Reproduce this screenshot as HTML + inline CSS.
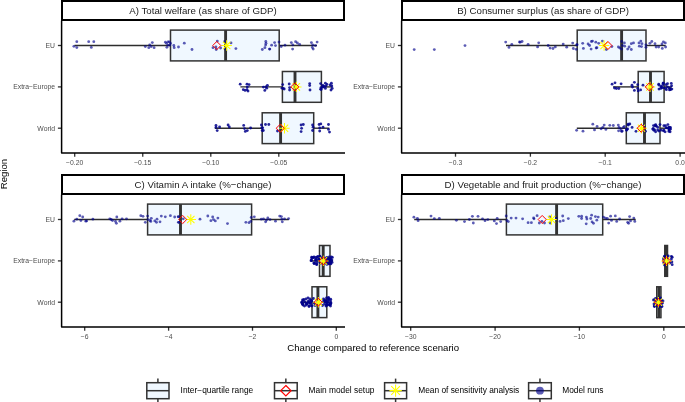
<!DOCTYPE html><html><head><meta charset="utf-8"><style>html,body{margin:0;padding:0;background:#fff;}svg{display:block;will-change:transform;}text{font-family:"Liberation Sans", sans-serif;}</style></head><body>
<svg width="685" height="402" viewBox="0 0 685 402">
<rect width="685" height="402" fill="#fff"/>
<rect x="62" y="1" width="282" height="19" fill="#fff" stroke="#000" stroke-width="2"/>
<text x="203.0" y="13.7" font-size="9.7" fill="#1a1a1a" text-anchor="middle">A) Total welfare (as share of GDP)</text>
<line x1="57.90" y1="45.50" x2="61.60" y2="45.50" stroke="#333" stroke-width="1.3"/>
<text x="55.00" y="47.95" font-size="6.8" fill="#4d4d4d" text-anchor="end">EU</text>
<line x1="57.90" y1="86.90" x2="61.60" y2="86.90" stroke="#333" stroke-width="1.3"/>
<text x="55.00" y="89.35" font-size="6.8" fill="#4d4d4d" text-anchor="end">Extra−Europe</text>
<line x1="57.90" y1="128.20" x2="61.60" y2="128.20" stroke="#333" stroke-width="1.3"/>
<text x="55.00" y="130.65" font-size="6.8" fill="#4d4d4d" text-anchor="end">World</text>
<line x1="74.70" y1="153.00" x2="74.70" y2="156.70" stroke="#333" stroke-width="1.3"/>
<text x="74.70" y="165.10" font-size="6.8" fill="#4d4d4d" text-anchor="middle">−0.20</text>
<line x1="142.75" y1="153.00" x2="142.75" y2="156.70" stroke="#333" stroke-width="1.3"/>
<text x="142.75" y="165.10" font-size="6.8" fill="#4d4d4d" text-anchor="middle">−0.15</text>
<line x1="210.80" y1="153.00" x2="210.80" y2="156.70" stroke="#333" stroke-width="1.3"/>
<text x="210.80" y="165.10" font-size="6.8" fill="#4d4d4d" text-anchor="middle">−0.10</text>
<line x1="278.80" y1="153.00" x2="278.80" y2="156.70" stroke="#333" stroke-width="1.3"/>
<text x="278.80" y="165.10" font-size="6.8" fill="#4d4d4d" text-anchor="middle">−0.05</text>
<line x1="74.50" y1="45.50" x2="170.50" y2="45.50" stroke="#2d2d2d" stroke-width="1.4"/>
<line x1="279.20" y1="45.50" x2="317.00" y2="45.50" stroke="#2d2d2d" stroke-width="1.4"/>
<rect x="170.50" y="30.10" width="108.70" height="30.80" fill="#F0F8FF" stroke="#333333" stroke-width="1.5"/>
<line x1="225.60" y1="30.10" x2="225.60" y2="60.90" stroke="#333333" stroke-width="2.9"/>
<circle cx="76.8" cy="41.7" r="1.42" fill="rgba(0,0,139,0.64)"/>
<circle cx="73.9" cy="46.3" r="1.42" fill="rgba(0,0,139,0.64)"/>
<circle cx="76.8" cy="47.6" r="1.42" fill="rgba(0,0,139,0.64)"/>
<circle cx="88.7" cy="41.7" r="1.42" fill="rgba(0,0,139,0.64)"/>
<circle cx="93.8" cy="41.7" r="1.42" fill="rgba(0,0,139,0.64)"/>
<circle cx="91.3" cy="47.4" r="1.42" fill="rgba(0,0,139,0.64)"/>
<circle cx="145.3" cy="46.6" r="1.42" fill="rgba(0,0,139,0.64)"/>
<circle cx="148.8" cy="47.7" r="1.42" fill="rgba(0,0,139,0.64)"/>
<circle cx="149.7" cy="44.8" r="1.42" fill="rgba(0,0,139,0.64)"/>
<circle cx="152.3" cy="42.6" r="1.42" fill="rgba(0,0,139,0.64)"/>
<circle cx="151.2" cy="46.6" r="1.42" fill="rgba(0,0,139,0.64)"/>
<circle cx="154.1" cy="47.7" r="1.42" fill="rgba(0,0,139,0.64)"/>
<circle cx="165.4" cy="42.2" r="1.42" fill="rgba(0,0,139,0.64)"/>
<circle cx="166.5" cy="43.3" r="1.42" fill="rgba(0,0,139,0.64)"/>
<circle cx="168.0" cy="41.8" r="1.42" fill="rgba(0,0,139,0.64)"/>
<circle cx="169.4" cy="41.8" r="1.42" fill="rgba(0,0,139,0.64)"/>
<circle cx="166.9" cy="47.3" r="1.42" fill="rgba(0,0,139,0.64)"/>
<circle cx="168.0" cy="45.1" r="1.42" fill="rgba(0,0,139,0.64)"/>
<circle cx="169.8" cy="45.1" r="1.42" fill="rgba(0,0,139,0.64)"/>
<circle cx="170.5" cy="43.3" r="1.42" fill="rgba(0,0,139,0.64)"/>
<circle cx="173.8" cy="45.5" r="1.42" fill="rgba(0,0,139,0.64)"/>
<circle cx="174.2" cy="47.7" r="1.42" fill="rgba(0,0,139,0.64)"/>
<circle cx="178.5" cy="47.0" r="1.42" fill="rgba(0,0,139,0.64)"/>
<circle cx="184.3" cy="43.2" r="1.42" fill="rgba(0,0,139,0.64)"/>
<circle cx="192.0" cy="49.5" r="1.42" fill="rgba(0,0,139,0.64)"/>
<circle cx="213.0" cy="47.7" r="1.42" fill="rgba(0,0,139,0.64)"/>
<circle cx="215.9" cy="47.0" r="1.42" fill="rgba(0,0,139,0.64)"/>
<circle cx="216.2" cy="49.5" r="1.42" fill="rgba(0,0,139,0.64)"/>
<circle cx="217.3" cy="41.1" r="1.42" fill="rgba(0,0,139,0.64)"/>
<circle cx="220.6" cy="48.0" r="1.42" fill="rgba(0,0,139,0.64)"/>
<circle cx="224.7" cy="41.5" r="1.42" fill="rgba(0,0,139,0.64)"/>
<circle cx="231.0" cy="42.9" r="1.42" fill="rgba(0,0,139,0.64)"/>
<circle cx="225.1" cy="49.1" r="1.42" fill="rgba(0,0,139,0.64)"/>
<circle cx="235.9" cy="48.6" r="1.42" fill="rgba(0,0,139,0.64)"/>
<circle cx="265.8" cy="41.5" r="1.42" fill="rgba(0,0,139,0.64)"/>
<circle cx="266.0" cy="43.3" r="1.42" fill="rgba(0,0,139,0.64)"/>
<circle cx="265.6" cy="45.1" r="1.42" fill="rgba(0,0,139,0.64)"/>
<circle cx="264.9" cy="47.7" r="1.42" fill="rgba(0,0,139,0.64)"/>
<circle cx="262.3" cy="49.5" r="1.42" fill="rgba(0,0,139,0.64)"/>
<circle cx="269.5" cy="49.1" r="1.42" fill="rgba(0,0,139,0.64)"/>
<circle cx="269.8" cy="49.1" r="1.42" fill="rgba(0,0,139,0.64)"/>
<circle cx="271.6" cy="45.2" r="1.42" fill="rgba(0,0,139,0.64)"/>
<circle cx="274.6" cy="42.6" r="1.42" fill="rgba(0,0,139,0.64)"/>
<circle cx="275.5" cy="45.6" r="1.42" fill="rgba(0,0,139,0.64)"/>
<circle cx="279.0" cy="42.1" r="1.42" fill="rgba(0,0,139,0.64)"/>
<circle cx="281.2" cy="46.5" r="1.42" fill="rgba(0,0,139,0.64)"/>
<circle cx="285.0" cy="45.2" r="1.42" fill="rgba(0,0,139,0.64)"/>
<circle cx="291.3" cy="42.6" r="1.42" fill="rgba(0,0,139,0.64)"/>
<circle cx="292.8" cy="44.8" r="1.42" fill="rgba(0,0,139,0.64)"/>
<circle cx="292.6" cy="49.1" r="1.42" fill="rgba(0,0,139,0.64)"/>
<circle cx="295.6" cy="41.7" r="1.42" fill="rgba(0,0,139,0.64)"/>
<circle cx="297.4" cy="43.0" r="1.42" fill="rgba(0,0,139,0.64)"/>
<circle cx="299.6" cy="44.3" r="1.42" fill="rgba(0,0,139,0.64)"/>
<circle cx="311.4" cy="42.6" r="1.42" fill="rgba(0,0,139,0.64)"/>
<circle cx="312.7" cy="44.8" r="1.42" fill="rgba(0,0,139,0.64)"/>
<circle cx="312.3" cy="47.4" r="1.42" fill="rgba(0,0,139,0.64)"/>
<circle cx="313.2" cy="49.1" r="1.42" fill="rgba(0,0,139,0.64)"/>
<circle cx="315.4" cy="45.6" r="1.42" fill="rgba(0,0,139,0.64)"/>
<circle cx="317.1" cy="42.1" r="1.42" fill="rgba(0,0,139,0.64)"/>
<path d="M221.50 45.50H231.90M226.70 40.30V50.70M223.02 41.82L230.38 49.18M223.02 49.18L230.38 41.82" stroke="#ffff00" stroke-width="1.05" fill="none"/>
<path d="M216.80 41.45L220.85 45.50L216.80 49.55L212.75 45.50Z" stroke="#ff0000" stroke-width="1.0" fill="none"/>
<line x1="240.40" y1="86.90" x2="282.40" y2="86.90" stroke="#2d2d2d" stroke-width="1.4"/>
<line x1="321.40" y1="86.90" x2="331.80" y2="86.90" stroke="#2d2d2d" stroke-width="1.4"/>
<rect x="282.40" y="71.50" width="39.00" height="30.80" fill="#F0F8FF" stroke="#333333" stroke-width="1.5"/>
<line x1="295.00" y1="71.50" x2="295.00" y2="102.30" stroke="#333333" stroke-width="2.9"/>
<circle cx="240.2" cy="84.2" r="1.42" fill="rgba(0,0,139,0.85)"/>
<circle cx="243.3" cy="89.7" r="1.42" fill="rgba(0,0,139,0.85)"/>
<circle cx="245.1" cy="90.4" r="1.42" fill="rgba(0,0,139,0.85)"/>
<circle cx="247.0" cy="84.2" r="1.42" fill="rgba(0,0,139,0.85)"/>
<circle cx="249.1" cy="84.6" r="1.42" fill="rgba(0,0,139,0.85)"/>
<circle cx="247.3" cy="87.1" r="1.42" fill="rgba(0,0,139,0.85)"/>
<circle cx="248.0" cy="91.1" r="1.42" fill="rgba(0,0,139,0.85)"/>
<circle cx="247.0" cy="89.7" r="1.42" fill="rgba(0,0,139,0.85)"/>
<circle cx="263.4" cy="87.1" r="1.42" fill="rgba(0,0,139,0.85)"/>
<circle cx="264.8" cy="90.4" r="1.42" fill="rgba(0,0,139,0.85)"/>
<circle cx="266.7" cy="88.2" r="1.42" fill="rgba(0,0,139,0.85)"/>
<circle cx="267.4" cy="85.3" r="1.42" fill="rgba(0,0,139,0.85)"/>
<circle cx="265.9" cy="86.8" r="1.42" fill="rgba(0,0,139,0.85)"/>
<circle cx="282.7" cy="84.6" r="1.42" fill="rgba(0,0,139,0.85)"/>
<circle cx="282.0" cy="88.2" r="1.42" fill="rgba(0,0,139,0.85)"/>
<circle cx="284.2" cy="89.0" r="1.42" fill="rgba(0,0,139,0.85)"/>
<circle cx="283.2" cy="88.4" r="1.42" fill="rgba(0,0,139,0.85)"/>
<circle cx="289.2" cy="84.0" r="1.42" fill="rgba(0,0,139,0.85)"/>
<circle cx="289.6" cy="87.6" r="1.42" fill="rgba(0,0,139,0.85)"/>
<circle cx="289.6" cy="90.0" r="1.42" fill="rgba(0,0,139,0.85)"/>
<circle cx="309.7" cy="83.6" r="1.42" fill="rgba(0,0,139,0.85)"/>
<circle cx="309.7" cy="85.6" r="1.42" fill="rgba(0,0,139,0.85)"/>
<circle cx="310.0" cy="90.0" r="1.42" fill="rgba(0,0,139,0.85)"/>
<circle cx="320.6" cy="83.6" r="1.42" fill="rgba(0,0,139,0.85)"/>
<circle cx="321.0" cy="87.6" r="1.42" fill="rgba(0,0,139,0.85)"/>
<circle cx="320.6" cy="89.2" r="1.42" fill="rgba(0,0,139,0.85)"/>
<circle cx="325.4" cy="83.2" r="1.42" fill="rgba(0,0,139,0.85)"/>
<circle cx="325.8" cy="86.0" r="1.42" fill="rgba(0,0,139,0.85)"/>
<circle cx="325.4" cy="88.4" r="1.42" fill="rgba(0,0,139,0.85)"/>
<circle cx="327.0" cy="84.4" r="1.42" fill="rgba(0,0,139,0.85)"/>
<circle cx="331.4" cy="83.2" r="1.42" fill="rgba(0,0,139,0.85)"/>
<circle cx="331.8" cy="86.0" r="1.42" fill="rgba(0,0,139,0.85)"/>
<circle cx="331.0" cy="90.0" r="1.42" fill="rgba(0,0,139,0.85)"/>
<circle cx="332.2" cy="88.4" r="1.42" fill="rgba(0,0,139,0.85)"/>
<circle cx="330.2" cy="84.9" r="1.42" fill="rgba(0,0,139,0.85)"/>
<circle cx="322.8" cy="85.4" r="1.42" fill="rgba(0,0,139,0.85)"/>
<circle cx="322.6" cy="87.3" r="1.42" fill="rgba(0,0,139,0.85)"/>
<circle cx="322.9" cy="86.2" r="1.42" fill="rgba(0,0,139,0.85)"/>
<circle cx="321.2" cy="89.4" r="1.42" fill="rgba(0,0,139,0.85)"/>
<circle cx="324.1" cy="86.5" r="1.42" fill="rgba(0,0,139,0.85)"/>
<path d="M291.10 86.90H301.50M296.30 81.70V92.10M292.62 83.22L299.98 90.58M292.62 90.58L299.98 83.22" stroke="#ffff00" stroke-width="1.05" fill="none"/>
<path d="M294.80 82.85L298.85 86.90L294.80 90.95L290.75 86.90Z" stroke="#ff0000" stroke-width="1.0" fill="none"/>
<line x1="214.80" y1="128.20" x2="262.20" y2="128.20" stroke="#2d2d2d" stroke-width="1.4"/>
<line x1="313.70" y1="128.20" x2="329.30" y2="128.20" stroke="#2d2d2d" stroke-width="1.4"/>
<rect x="262.20" y="112.80" width="51.50" height="30.80" fill="#F0F8FF" stroke="#333333" stroke-width="1.5"/>
<line x1="280.60" y1="112.80" x2="280.60" y2="143.60" stroke="#333333" stroke-width="2.9"/>
<circle cx="216.0" cy="125.4" r="1.42" fill="rgba(0,0,139,0.85)"/>
<circle cx="216.0" cy="127.4" r="1.42" fill="rgba(0,0,139,0.85)"/>
<circle cx="217.2" cy="130.6" r="1.42" fill="rgba(0,0,139,0.85)"/>
<circle cx="219.6" cy="127.0" r="1.42" fill="rgba(0,0,139,0.85)"/>
<circle cx="228.1" cy="125.0" r="1.42" fill="rgba(0,0,139,0.85)"/>
<circle cx="229.3" cy="127.0" r="1.42" fill="rgba(0,0,139,0.85)"/>
<circle cx="243.7" cy="125.4" r="1.42" fill="rgba(0,0,139,0.85)"/>
<circle cx="244.5" cy="128.6" r="1.42" fill="rgba(0,0,139,0.85)"/>
<circle cx="245.3" cy="131.4" r="1.42" fill="rgba(0,0,139,0.85)"/>
<circle cx="247.3" cy="130.6" r="1.42" fill="rgba(0,0,139,0.85)"/>
<circle cx="250.6" cy="128.0" r="1.42" fill="rgba(0,0,139,0.85)"/>
<circle cx="261.4" cy="125.0" r="1.42" fill="rgba(0,0,139,0.85)"/>
<circle cx="261.8" cy="127.8" r="1.42" fill="rgba(0,0,139,0.85)"/>
<circle cx="262.2" cy="130.6" r="1.42" fill="rgba(0,0,139,0.85)"/>
<circle cx="262.7" cy="127.8" r="1.42" fill="rgba(0,0,139,0.85)"/>
<circle cx="263.3" cy="130.5" r="1.42" fill="rgba(0,0,139,0.85)"/>
<circle cx="265.5" cy="124.5" r="1.42" fill="rgba(0,0,139,0.85)"/>
<circle cx="268.8" cy="124.5" r="1.42" fill="rgba(0,0,139,0.85)"/>
<circle cx="277.5" cy="131.0" r="1.42" fill="rgba(0,0,139,0.85)"/>
<circle cx="301.1" cy="125.0" r="1.42" fill="rgba(0,0,139,0.85)"/>
<circle cx="301.6" cy="128.3" r="1.42" fill="rgba(0,0,139,0.85)"/>
<circle cx="301.1" cy="131.6" r="1.42" fill="rgba(0,0,139,0.85)"/>
<circle cx="303.3" cy="124.5" r="1.42" fill="rgba(0,0,139,0.85)"/>
<circle cx="312.6" cy="125.0" r="1.42" fill="rgba(0,0,139,0.85)"/>
<circle cx="312.6" cy="130.5" r="1.42" fill="rgba(0,0,139,0.85)"/>
<circle cx="313.1" cy="127.2" r="1.42" fill="rgba(0,0,139,0.85)"/>
<circle cx="319.1" cy="124.5" r="1.42" fill="rgba(0,0,139,0.85)"/>
<circle cx="319.7" cy="127.8" r="1.42" fill="rgba(0,0,139,0.85)"/>
<circle cx="319.7" cy="131.0" r="1.42" fill="rgba(0,0,139,0.85)"/>
<circle cx="320.8" cy="123.9" r="1.42" fill="rgba(0,0,139,0.85)"/>
<circle cx="323.0" cy="127.2" r="1.42" fill="rgba(0,0,139,0.85)"/>
<circle cx="328.5" cy="124.5" r="1.42" fill="rgba(0,0,139,0.85)"/>
<circle cx="328.5" cy="129.4" r="1.42" fill="rgba(0,0,139,0.85)"/>
<circle cx="329.5" cy="132.1" r="1.42" fill="rgba(0,0,139,0.85)"/>
<path d="M279.30 128.20H289.70M284.50 123.00V133.40M280.82 124.52L288.18 131.88M280.82 131.88L288.18 124.52" stroke="#ffff00" stroke-width="1.05" fill="none"/>
<path d="M280.30 124.15L284.35 128.20L280.30 132.25L276.25 128.20Z" stroke="#ff0000" stroke-width="1.0" fill="none"/>
<path d="M61.60 20.70V153.00H345.00" stroke="#000" stroke-width="1.5" fill="none" stroke-linejoin="round"/>
<rect x="402" y="1" width="282" height="19" fill="#fff" stroke="#000" stroke-width="2"/>
<text x="543.0" y="13.7" font-size="9.7" fill="#1a1a1a" text-anchor="middle">B) Consumer surplus (as share of GDP)</text>
<line x1="397.90" y1="45.50" x2="401.60" y2="45.50" stroke="#333" stroke-width="1.3"/>
<text x="395.00" y="47.95" font-size="6.8" fill="#4d4d4d" text-anchor="end">EU</text>
<line x1="397.90" y1="86.90" x2="401.60" y2="86.90" stroke="#333" stroke-width="1.3"/>
<text x="395.00" y="89.35" font-size="6.8" fill="#4d4d4d" text-anchor="end">Extra−Europe</text>
<line x1="397.90" y1="128.20" x2="401.60" y2="128.20" stroke="#333" stroke-width="1.3"/>
<text x="395.00" y="130.65" font-size="6.8" fill="#4d4d4d" text-anchor="end">World</text>
<line x1="455.50" y1="153.00" x2="455.50" y2="156.70" stroke="#333" stroke-width="1.3"/>
<text x="455.50" y="165.10" font-size="6.8" fill="#4d4d4d" text-anchor="middle">−0.3</text>
<line x1="530.40" y1="153.00" x2="530.40" y2="156.70" stroke="#333" stroke-width="1.3"/>
<text x="530.40" y="165.10" font-size="6.8" fill="#4d4d4d" text-anchor="middle">−0.2</text>
<line x1="605.20" y1="153.00" x2="605.20" y2="156.70" stroke="#333" stroke-width="1.3"/>
<text x="605.20" y="165.10" font-size="6.8" fill="#4d4d4d" text-anchor="middle">−0.1</text>
<line x1="680.10" y1="153.00" x2="680.10" y2="156.70" stroke="#333" stroke-width="1.3"/>
<text x="680.10" y="165.10" font-size="6.8" fill="#4d4d4d" text-anchor="middle">0.0</text>
<line x1="506.00" y1="45.50" x2="577.20" y2="45.50" stroke="#2d2d2d" stroke-width="1.4"/>
<line x1="646.00" y1="45.50" x2="665.60" y2="45.50" stroke="#2d2d2d" stroke-width="1.4"/>
<rect x="577.20" y="30.10" width="68.80" height="30.80" fill="#F0F8FF" stroke="#333333" stroke-width="1.5"/>
<line x1="621.60" y1="30.10" x2="621.60" y2="60.90" stroke="#333333" stroke-width="2.9"/>
<circle cx="414.2" cy="49.6" r="1.42" fill="rgba(0,0,139,0.64)"/>
<circle cx="434.3" cy="49.6" r="1.42" fill="rgba(0,0,139,0.64)"/>
<circle cx="465.0" cy="45.6" r="1.42" fill="rgba(0,0,139,0.64)"/>
<circle cx="505.7" cy="42.1" r="1.42" fill="rgba(0,0,139,0.64)"/>
<circle cx="509.0" cy="47.4" r="1.42" fill="rgba(0,0,139,0.64)"/>
<circle cx="511.8" cy="44.3" r="1.42" fill="rgba(0,0,139,0.64)"/>
<circle cx="519.5" cy="42.0" r="1.42" fill="rgba(0,0,139,0.64)"/>
<circle cx="520.2" cy="42.2" r="1.42" fill="rgba(0,0,139,0.64)"/>
<circle cx="522.1" cy="41.5" r="1.42" fill="rgba(0,0,139,0.64)"/>
<circle cx="528.1" cy="44.3" r="1.42" fill="rgba(0,0,139,0.64)"/>
<circle cx="538.7" cy="42.8" r="1.42" fill="rgba(0,0,139,0.64)"/>
<circle cx="537.6" cy="46.9" r="1.42" fill="rgba(0,0,139,0.64)"/>
<circle cx="548.2" cy="45.5" r="1.42" fill="rgba(0,0,139,0.64)"/>
<circle cx="550.1" cy="48.1" r="1.42" fill="rgba(0,0,139,0.64)"/>
<circle cx="553.0" cy="48.5" r="1.42" fill="rgba(0,0,139,0.64)"/>
<circle cx="555.3" cy="46.9" r="1.42" fill="rgba(0,0,139,0.64)"/>
<circle cx="563.2" cy="44.1" r="1.42" fill="rgba(0,0,139,0.64)"/>
<circle cx="566.7" cy="47.2" r="1.42" fill="rgba(0,0,139,0.64)"/>
<circle cx="572.7" cy="43.1" r="1.42" fill="rgba(0,0,139,0.64)"/>
<circle cx="573.3" cy="48.5" r="1.42" fill="rgba(0,0,139,0.64)"/>
<circle cx="576.2" cy="49.3" r="1.42" fill="rgba(0,0,139,0.64)"/>
<circle cx="577.1" cy="44.7" r="1.42" fill="rgba(0,0,139,0.64)"/>
<circle cx="576.8" cy="44.8" r="1.42" fill="rgba(0,0,139,0.64)"/>
<circle cx="582.7" cy="43.3" r="1.42" fill="rgba(0,0,139,0.64)"/>
<circle cx="583.4" cy="48.4" r="1.42" fill="rgba(0,0,139,0.64)"/>
<circle cx="588.1" cy="44.0" r="1.42" fill="rgba(0,0,139,0.64)"/>
<circle cx="589.6" cy="45.5" r="1.42" fill="rgba(0,0,139,0.64)"/>
<circle cx="591.4" cy="41.5" r="1.42" fill="rgba(0,0,139,0.64)"/>
<circle cx="592.5" cy="41.1" r="1.42" fill="rgba(0,0,139,0.64)"/>
<circle cx="591.1" cy="49.1" r="1.42" fill="rgba(0,0,139,0.64)"/>
<circle cx="595.8" cy="42.2" r="1.42" fill="rgba(0,0,139,0.64)"/>
<circle cx="596.2" cy="48.0" r="1.42" fill="rgba(0,0,139,0.64)"/>
<circle cx="596.9" cy="47.7" r="1.42" fill="rgba(0,0,139,0.64)"/>
<circle cx="598.7" cy="43.3" r="1.42" fill="rgba(0,0,139,0.64)"/>
<circle cx="602.4" cy="41.1" r="1.42" fill="rgba(0,0,139,0.64)"/>
<circle cx="606.4" cy="49.5" r="1.42" fill="rgba(0,0,139,0.64)"/>
<circle cx="611.9" cy="46.6" r="1.42" fill="rgba(0,0,139,0.64)"/>
<circle cx="618.4" cy="47.0" r="1.42" fill="rgba(0,0,139,0.64)"/>
<circle cx="619.9" cy="48.0" r="1.42" fill="rgba(0,0,139,0.64)"/>
<circle cx="621.7" cy="41.5" r="1.42" fill="rgba(0,0,139,0.64)"/>
<circle cx="622.4" cy="45.5" r="1.42" fill="rgba(0,0,139,0.64)"/>
<circle cx="621.7" cy="49.1" r="1.42" fill="rgba(0,0,139,0.64)"/>
<circle cx="624.4" cy="42.9" r="1.42" fill="rgba(0,0,139,0.64)"/>
<circle cx="624.7" cy="46.2" r="1.42" fill="rgba(0,0,139,0.64)"/>
<circle cx="627.7" cy="49.1" r="1.42" fill="rgba(0,0,139,0.64)"/>
<circle cx="629.1" cy="47.0" r="1.42" fill="rgba(0,0,139,0.64)"/>
<circle cx="631.3" cy="43.7" r="1.42" fill="rgba(0,0,139,0.64)"/>
<circle cx="631.3" cy="49.5" r="1.42" fill="rgba(0,0,139,0.64)"/>
<circle cx="633.5" cy="42.9" r="1.42" fill="rgba(0,0,139,0.64)"/>
<circle cx="639.0" cy="42.9" r="1.42" fill="rgba(0,0,139,0.64)"/>
<circle cx="639.3" cy="46.2" r="1.42" fill="rgba(0,0,139,0.64)"/>
<circle cx="640.8" cy="41.1" r="1.42" fill="rgba(0,0,139,0.64)"/>
<circle cx="641.9" cy="43.7" r="1.42" fill="rgba(0,0,139,0.64)"/>
<circle cx="641.5" cy="46.6" r="1.42" fill="rgba(0,0,139,0.64)"/>
<circle cx="645.9" cy="44.8" r="1.42" fill="rgba(0,0,139,0.64)"/>
<circle cx="645.9" cy="47.3" r="1.42" fill="rgba(0,0,139,0.64)"/>
<circle cx="649.9" cy="43.3" r="1.42" fill="rgba(0,0,139,0.64)"/>
<circle cx="651.8" cy="41.5" r="1.42" fill="rgba(0,0,139,0.64)"/>
<circle cx="655.0" cy="43.7" r="1.42" fill="rgba(0,0,139,0.64)"/>
<circle cx="656.1" cy="47.0" r="1.42" fill="rgba(0,0,139,0.64)"/>
<circle cx="658.7" cy="47.0" r="1.42" fill="rgba(0,0,139,0.64)"/>
<circle cx="662.3" cy="48.4" r="1.42" fill="rgba(0,0,139,0.64)"/>
<circle cx="663.4" cy="41.8" r="1.42" fill="rgba(0,0,139,0.64)"/>
<circle cx="665.3" cy="42.9" r="1.42" fill="rgba(0,0,139,0.64)"/>
<circle cx="665.6" cy="47.0" r="1.42" fill="rgba(0,0,139,0.64)"/>
<circle cx="662.0" cy="44.0" r="1.42" fill="rgba(0,0,139,0.64)"/>
<path d="M598.90 45.50H609.30M604.10 40.30V50.70M600.42 41.82L607.78 49.18M600.42 49.18L607.78 41.82" stroke="#ffff00" stroke-width="1.05" fill="none"/>
<path d="M607.90 41.45L611.95 45.50L607.90 49.55L603.85 45.50Z" stroke="#ff0000" stroke-width="1.0" fill="none"/>
<line x1="613.10" y1="86.90" x2="638.20" y2="86.90" stroke="#2d2d2d" stroke-width="1.4"/>
<line x1="664.10" y1="86.90" x2="672.00" y2="86.90" stroke="#2d2d2d" stroke-width="1.4"/>
<rect x="638.20" y="71.50" width="25.90" height="30.80" fill="#F0F8FF" stroke="#333333" stroke-width="1.5"/>
<line x1="650.50" y1="71.50" x2="650.50" y2="102.30" stroke="#333333" stroke-width="2.9"/>
<circle cx="612.1" cy="84.2" r="1.42" fill="rgba(0,0,139,0.85)"/>
<circle cx="615.0" cy="82.8" r="1.42" fill="rgba(0,0,139,0.85)"/>
<circle cx="614.5" cy="88.0" r="1.42" fill="rgba(0,0,139,0.85)"/>
<circle cx="616.4" cy="88.5" r="1.42" fill="rgba(0,0,139,0.85)"/>
<circle cx="618.8" cy="88.5" r="1.42" fill="rgba(0,0,139,0.85)"/>
<circle cx="621.1" cy="83.8" r="1.42" fill="rgba(0,0,139,0.85)"/>
<circle cx="632.0" cy="85.2" r="1.42" fill="rgba(0,0,139,0.85)"/>
<circle cx="632.5" cy="87.1" r="1.42" fill="rgba(0,0,139,0.85)"/>
<circle cx="634.4" cy="82.3" r="1.42" fill="rgba(0,0,139,0.85)"/>
<circle cx="634.4" cy="90.4" r="1.42" fill="rgba(0,0,139,0.85)"/>
<circle cx="637.7" cy="84.7" r="1.42" fill="rgba(0,0,139,0.85)"/>
<circle cx="637.7" cy="88.5" r="1.42" fill="rgba(0,0,139,0.85)"/>
<circle cx="638.2" cy="90.9" r="1.42" fill="rgba(0,0,139,0.85)"/>
<circle cx="640.6" cy="89.9" r="1.42" fill="rgba(0,0,139,0.85)"/>
<circle cx="643.0" cy="85.2" r="1.42" fill="rgba(0,0,139,0.85)"/>
<circle cx="658.7" cy="84.2" r="1.42" fill="rgba(0,0,139,0.85)"/>
<circle cx="659.0" cy="89.1" r="1.42" fill="rgba(0,0,139,0.85)"/>
<circle cx="660.9" cy="86.4" r="1.42" fill="rgba(0,0,139,0.85)"/>
<circle cx="663.1" cy="83.1" r="1.42" fill="rgba(0,0,139,0.85)"/>
<circle cx="663.9" cy="87.8" r="1.42" fill="rgba(0,0,139,0.85)"/>
<circle cx="666.1" cy="84.7" r="1.42" fill="rgba(0,0,139,0.85)"/>
<circle cx="666.4" cy="89.7" r="1.42" fill="rgba(0,0,139,0.85)"/>
<circle cx="667.5" cy="83.7" r="1.42" fill="rgba(0,0,139,0.85)"/>
<circle cx="667.5" cy="86.9" r="1.42" fill="rgba(0,0,139,0.85)"/>
<circle cx="671.3" cy="83.4" r="1.42" fill="rgba(0,0,139,0.85)"/>
<circle cx="671.6" cy="85.8" r="1.42" fill="rgba(0,0,139,0.85)"/>
<circle cx="671.9" cy="89.1" r="1.42" fill="rgba(0,0,139,0.85)"/>
<circle cx="670.5" cy="89.7" r="1.42" fill="rgba(0,0,139,0.85)"/>
<circle cx="660.8" cy="88.4" r="1.42" fill="rgba(0,0,139,0.85)"/>
<circle cx="665.7" cy="88.5" r="1.42" fill="rgba(0,0,139,0.85)"/>
<circle cx="663.0" cy="84.6" r="1.42" fill="rgba(0,0,139,0.85)"/>
<circle cx="669.5" cy="89.9" r="1.42" fill="rgba(0,0,139,0.85)"/>
<circle cx="670.0" cy="88.6" r="1.42" fill="rgba(0,0,139,0.85)"/>
<circle cx="669.5" cy="88.2" r="1.42" fill="rgba(0,0,139,0.85)"/>
<circle cx="661.6" cy="86.6" r="1.42" fill="rgba(0,0,139,0.85)"/>
<circle cx="663.3" cy="83.2" r="1.42" fill="rgba(0,0,139,0.85)"/>
<circle cx="658.9" cy="85.0" r="1.42" fill="rgba(0,0,139,0.85)"/>
<circle cx="662.0" cy="87.8" r="1.42" fill="rgba(0,0,139,0.85)"/>
<path d="M644.80 86.90H655.20M650.00 81.70V92.10M646.32 83.22L653.68 90.58M646.32 90.58L653.68 83.22" stroke="#ffff00" stroke-width="1.05" fill="none"/>
<path d="M649.30 82.85L653.35 86.90L649.30 90.95L645.25 86.90Z" stroke="#ff0000" stroke-width="1.0" fill="none"/>
<line x1="576.80" y1="128.20" x2="626.30" y2="128.20" stroke="#2d2d2d" stroke-width="1.4"/>
<line x1="660.00" y1="128.20" x2="671.00" y2="128.20" stroke="#2d2d2d" stroke-width="1.4"/>
<rect x="626.30" y="112.80" width="33.70" height="30.80" fill="#F0F8FF" stroke="#333333" stroke-width="1.5"/>
<line x1="644.50" y1="112.80" x2="644.50" y2="143.60" stroke="#333333" stroke-width="2.9"/>
<circle cx="576.6" cy="130.3" r="1.42" fill="rgba(0,0,139,0.64)"/>
<circle cx="583.0" cy="131.2" r="1.42" fill="rgba(0,0,139,0.64)"/>
<circle cx="592.8" cy="124.2" r="1.42" fill="rgba(0,0,139,0.64)"/>
<circle cx="594.5" cy="129.9" r="1.42" fill="rgba(0,0,139,0.64)"/>
<circle cx="597.1" cy="126.4" r="1.42" fill="rgba(0,0,139,0.64)"/>
<circle cx="601.1" cy="128.8" r="1.42" fill="rgba(0,0,139,0.64)"/>
<circle cx="602.8" cy="127.3" r="1.42" fill="rgba(0,0,139,0.64)"/>
<circle cx="604.2" cy="125.1" r="1.42" fill="rgba(0,0,139,0.64)"/>
<circle cx="605.9" cy="129.4" r="1.42" fill="rgba(0,0,139,0.64)"/>
<circle cx="609.8" cy="125.3" r="1.42" fill="rgba(0,0,139,0.64)"/>
<circle cx="613.3" cy="125.5" r="1.42" fill="rgba(0,0,139,0.64)"/>
<circle cx="619.0" cy="127.3" r="1.42" fill="rgba(0,0,139,0.64)"/>
<circle cx="618.6" cy="130.8" r="1.42" fill="rgba(0,0,139,0.64)"/>
<circle cx="621.7" cy="131.6" r="1.42" fill="rgba(0,0,139,0.64)"/>
<circle cx="623.4" cy="127.3" r="1.42" fill="rgba(0,0,139,0.64)"/>
<circle cx="624.3" cy="126.4" r="1.42" fill="rgba(0,0,139,0.64)"/>
<circle cx="626.5" cy="130.3" r="1.42" fill="rgba(0,0,139,0.85)"/>
<circle cx="628.2" cy="124.2" r="1.42" fill="rgba(0,0,139,0.85)"/>
<circle cx="628.2" cy="125.1" r="1.42" fill="rgba(0,0,139,0.85)"/>
<circle cx="629.8" cy="124.0" r="1.42" fill="rgba(0,0,139,0.85)"/>
<circle cx="632.1" cy="127.4" r="1.42" fill="rgba(0,0,139,0.85)"/>
<circle cx="627.6" cy="129.0" r="1.42" fill="rgba(0,0,139,0.85)"/>
<circle cx="636.0" cy="131.3" r="1.42" fill="rgba(0,0,139,0.85)"/>
<circle cx="644.4" cy="125.7" r="1.42" fill="rgba(0,0,139,0.85)"/>
<circle cx="645.5" cy="131.3" r="1.42" fill="rgba(0,0,139,0.85)"/>
<circle cx="653.3" cy="128.5" r="1.42" fill="rgba(0,0,139,0.85)"/>
<circle cx="655.0" cy="125.7" r="1.42" fill="rgba(0,0,139,0.85)"/>
<circle cx="655.6" cy="131.8" r="1.42" fill="rgba(0,0,139,0.85)"/>
<circle cx="657.8" cy="127.4" r="1.42" fill="rgba(0,0,139,0.85)"/>
<circle cx="660.0" cy="124.6" r="1.42" fill="rgba(0,0,139,0.85)"/>
<circle cx="661.1" cy="130.2" r="1.42" fill="rgba(0,0,139,0.85)"/>
<circle cx="663.9" cy="125.7" r="1.42" fill="rgba(0,0,139,0.85)"/>
<circle cx="665.1" cy="131.8" r="1.42" fill="rgba(0,0,139,0.85)"/>
<circle cx="667.9" cy="124.6" r="1.42" fill="rgba(0,0,139,0.85)"/>
<circle cx="669.0" cy="129.0" r="1.42" fill="rgba(0,0,139,0.85)"/>
<circle cx="670.1" cy="131.8" r="1.42" fill="rgba(0,0,139,0.85)"/>
<circle cx="655.6" cy="124.6" r="1.42" fill="rgba(0,0,139,0.85)"/>
<circle cx="669.2" cy="127.6" r="1.42" fill="rgba(0,0,139,0.85)"/>
<circle cx="668.9" cy="131.4" r="1.42" fill="rgba(0,0,139,0.85)"/>
<circle cx="669.2" cy="127.1" r="1.42" fill="rgba(0,0,139,0.85)"/>
<circle cx="656.4" cy="126.1" r="1.42" fill="rgba(0,0,139,0.85)"/>
<circle cx="655.9" cy="125.9" r="1.42" fill="rgba(0,0,139,0.85)"/>
<circle cx="663.4" cy="130.8" r="1.42" fill="rgba(0,0,139,0.85)"/>
<circle cx="667.2" cy="127.9" r="1.42" fill="rgba(0,0,139,0.85)"/>
<circle cx="663.9" cy="130.1" r="1.42" fill="rgba(0,0,139,0.85)"/>
<circle cx="652.7" cy="129.1" r="1.42" fill="rgba(0,0,139,0.85)"/>
<circle cx="669.2" cy="130.0" r="1.42" fill="rgba(0,0,139,0.85)"/>
<circle cx="666.0" cy="127.8" r="1.42" fill="rgba(0,0,139,0.85)"/>
<circle cx="654.6" cy="130.0" r="1.42" fill="rgba(0,0,139,0.85)"/>
<circle cx="657.7" cy="130.1" r="1.42" fill="rgba(0,0,139,0.85)"/>
<circle cx="670.4" cy="127.3" r="1.42" fill="rgba(0,0,139,0.85)"/>
<circle cx="659.0" cy="131.1" r="1.42" fill="rgba(0,0,139,0.85)"/>
<circle cx="665.5" cy="125.7" r="1.42" fill="rgba(0,0,139,0.85)"/>
<circle cx="653.5" cy="125.6" r="1.42" fill="rgba(0,0,139,0.85)"/>
<circle cx="669.1" cy="130.1" r="1.42" fill="rgba(0,0,139,0.85)"/>
<circle cx="653.9" cy="130.3" r="1.42" fill="rgba(0,0,139,0.85)"/>
<circle cx="670.6" cy="129.1" r="1.42" fill="rgba(0,0,139,0.85)"/>
<circle cx="620.5" cy="128.6" r="1.42" fill="rgba(0,0,139,0.64)"/>
<circle cx="618.3" cy="125.1" r="1.42" fill="rgba(0,0,139,0.64)"/>
<circle cx="626.7" cy="129.2" r="1.42" fill="rgba(0,0,139,0.85)"/>
<circle cx="622.3" cy="131.1" r="1.42" fill="rgba(0,0,139,0.64)"/>
<circle cx="621.3" cy="130.7" r="1.42" fill="rgba(0,0,139,0.64)"/>
<path d="M636.30 128.20H646.70M641.50 123.00V133.40M637.82 124.52L645.18 131.88M637.82 131.88L645.18 124.52" stroke="#ffff00" stroke-width="1.05" fill="none"/>
<path d="M641.20 124.15L645.25 128.20L641.20 132.25L637.15 128.20Z" stroke="#ff0000" stroke-width="1.0" fill="none"/>
<path d="M401.60 20.70V153.00H685.00" stroke="#000" stroke-width="1.5" fill="none" stroke-linejoin="round"/>
<rect x="62" y="175" width="282" height="19" fill="#fff" stroke="#000" stroke-width="2"/>
<text x="203.0" y="187.7" font-size="9.7" fill="#1a1a1a" text-anchor="middle">C) Vitamin A intake (%−change)</text>
<line x1="57.90" y1="219.50" x2="61.60" y2="219.50" stroke="#333" stroke-width="1.3"/>
<text x="55.00" y="221.95" font-size="6.8" fill="#4d4d4d" text-anchor="end">EU</text>
<line x1="57.90" y1="260.90" x2="61.60" y2="260.90" stroke="#333" stroke-width="1.3"/>
<text x="55.00" y="263.35" font-size="6.8" fill="#4d4d4d" text-anchor="end">Extra−Europe</text>
<line x1="57.90" y1="302.20" x2="61.60" y2="302.20" stroke="#333" stroke-width="1.3"/>
<text x="55.00" y="304.65" font-size="6.8" fill="#4d4d4d" text-anchor="end">World</text>
<line x1="84.70" y1="327.00" x2="84.70" y2="330.70" stroke="#333" stroke-width="1.3"/>
<text x="84.70" y="339.10" font-size="6.8" fill="#4d4d4d" text-anchor="middle">−6</text>
<line x1="168.60" y1="327.00" x2="168.60" y2="330.70" stroke="#333" stroke-width="1.3"/>
<text x="168.60" y="339.10" font-size="6.8" fill="#4d4d4d" text-anchor="middle">−4</text>
<line x1="252.50" y1="327.00" x2="252.50" y2="330.70" stroke="#333" stroke-width="1.3"/>
<text x="252.50" y="339.10" font-size="6.8" fill="#4d4d4d" text-anchor="middle">−2</text>
<line x1="336.30" y1="327.00" x2="336.30" y2="330.70" stroke="#333" stroke-width="1.3"/>
<text x="336.30" y="339.10" font-size="6.8" fill="#4d4d4d" text-anchor="middle">0</text>
<line x1="74.20" y1="219.50" x2="147.60" y2="219.50" stroke="#2d2d2d" stroke-width="1.4"/>
<line x1="251.60" y1="219.50" x2="288.80" y2="219.50" stroke="#2d2d2d" stroke-width="1.4"/>
<rect x="147.60" y="204.10" width="104.00" height="30.80" fill="#F0F8FF" stroke="#333333" stroke-width="1.5"/>
<line x1="180.50" y1="204.10" x2="180.50" y2="234.90" stroke="#333333" stroke-width="2.9"/>
<circle cx="73.9" cy="221.2" r="1.42" fill="rgba(0,0,139,0.64)"/>
<circle cx="76.8" cy="219.2" r="1.42" fill="rgba(0,0,139,0.64)"/>
<circle cx="79.8" cy="215.7" r="1.42" fill="rgba(0,0,139,0.64)"/>
<circle cx="82.7" cy="217.0" r="1.42" fill="rgba(0,0,139,0.64)"/>
<circle cx="80.9" cy="220.5" r="1.42" fill="rgba(0,0,139,0.64)"/>
<circle cx="85.8" cy="221.2" r="1.42" fill="rgba(0,0,139,0.64)"/>
<circle cx="86.6" cy="220.9" r="1.42" fill="rgba(0,0,139,0.64)"/>
<circle cx="92.9" cy="219.2" r="1.42" fill="rgba(0,0,139,0.64)"/>
<circle cx="109.8" cy="218.8" r="1.42" fill="rgba(0,0,139,0.64)"/>
<circle cx="111.2" cy="219.5" r="1.42" fill="rgba(0,0,139,0.64)"/>
<circle cx="112.5" cy="220.5" r="1.42" fill="rgba(0,0,139,0.64)"/>
<circle cx="116.8" cy="217.0" r="1.42" fill="rgba(0,0,139,0.64)"/>
<circle cx="115.5" cy="221.4" r="1.42" fill="rgba(0,0,139,0.64)"/>
<circle cx="116.4" cy="223.3" r="1.42" fill="rgba(0,0,139,0.64)"/>
<circle cx="119.9" cy="221.2" r="1.42" fill="rgba(0,0,139,0.64)"/>
<circle cx="122.1" cy="218.8" r="1.42" fill="rgba(0,0,139,0.64)"/>
<circle cx="126.5" cy="218.8" r="1.42" fill="rgba(0,0,139,0.64)"/>
<circle cx="140.8" cy="215.7" r="1.42" fill="rgba(0,0,139,0.64)"/>
<circle cx="143.0" cy="216.3" r="1.42" fill="rgba(0,0,139,0.64)"/>
<circle cx="145.3" cy="222.3" r="1.42" fill="rgba(0,0,139,0.64)"/>
<circle cx="147.6" cy="216.1" r="1.42" fill="rgba(0,0,139,0.64)"/>
<circle cx="147.9" cy="219.6" r="1.42" fill="rgba(0,0,139,0.64)"/>
<circle cx="150.0" cy="220.5" r="1.42" fill="rgba(0,0,139,0.64)"/>
<circle cx="151.3" cy="218.3" r="1.42" fill="rgba(0,0,139,0.64)"/>
<circle cx="150.8" cy="221.4" r="1.42" fill="rgba(0,0,139,0.64)"/>
<circle cx="154.8" cy="220.9" r="1.42" fill="rgba(0,0,139,0.64)"/>
<circle cx="157.0" cy="219.2" r="1.42" fill="rgba(0,0,139,0.64)"/>
<circle cx="156.5" cy="222.3" r="1.42" fill="rgba(0,0,139,0.64)"/>
<circle cx="160.0" cy="221.8" r="1.42" fill="rgba(0,0,139,0.64)"/>
<circle cx="161.3" cy="216.1" r="1.42" fill="rgba(0,0,139,0.64)"/>
<circle cx="165.3" cy="216.8" r="1.42" fill="rgba(0,0,139,0.64)"/>
<circle cx="170.4" cy="215.7" r="1.42" fill="rgba(0,0,139,0.64)"/>
<circle cx="174.7" cy="217.0" r="1.42" fill="rgba(0,0,139,0.64)"/>
<circle cx="178.2" cy="216.8" r="1.42" fill="rgba(0,0,139,0.64)"/>
<circle cx="178.4" cy="222.3" r="1.42" fill="rgba(0,0,139,0.64)"/>
<circle cx="178.5" cy="216.6" r="1.42" fill="rgba(0,0,139,0.64)"/>
<circle cx="178.9" cy="222.3" r="1.42" fill="rgba(0,0,139,0.64)"/>
<circle cx="183.3" cy="218.8" r="1.42" fill="rgba(0,0,139,0.64)"/>
<circle cx="200.0" cy="219.2" r="1.42" fill="rgba(0,0,139,0.64)"/>
<circle cx="207.8" cy="216.0" r="1.42" fill="rgba(0,0,139,0.64)"/>
<circle cx="210.9" cy="220.7" r="1.42" fill="rgba(0,0,139,0.64)"/>
<circle cx="212.7" cy="217.0" r="1.42" fill="rgba(0,0,139,0.64)"/>
<circle cx="213.5" cy="219.6" r="1.42" fill="rgba(0,0,139,0.64)"/>
<circle cx="215.3" cy="220.9" r="1.42" fill="rgba(0,0,139,0.64)"/>
<circle cx="217.9" cy="218.1" r="1.42" fill="rgba(0,0,139,0.64)"/>
<circle cx="227.5" cy="223.6" r="1.42" fill="rgba(0,0,139,0.64)"/>
<circle cx="245.9" cy="222.3" r="1.42" fill="rgba(0,0,139,0.64)"/>
<circle cx="249.0" cy="222.7" r="1.42" fill="rgba(0,0,139,0.64)"/>
<circle cx="250.8" cy="221.4" r="1.42" fill="rgba(0,0,139,0.64)"/>
<circle cx="251.2" cy="217.4" r="1.42" fill="rgba(0,0,139,0.64)"/>
<circle cx="254.3" cy="216.8" r="1.42" fill="rgba(0,0,139,0.64)"/>
<circle cx="261.3" cy="219.2" r="1.42" fill="rgba(0,0,139,0.64)"/>
<circle cx="263.5" cy="218.9" r="1.42" fill="rgba(0,0,139,0.64)"/>
<circle cx="265.6" cy="221.8" r="1.42" fill="rgba(0,0,139,0.64)"/>
<circle cx="266.5" cy="220.1" r="1.42" fill="rgba(0,0,139,0.64)"/>
<circle cx="267.8" cy="217.9" r="1.42" fill="rgba(0,0,139,0.64)"/>
<circle cx="270.0" cy="219.6" r="1.42" fill="rgba(0,0,139,0.64)"/>
<circle cx="275.5" cy="221.2" r="1.42" fill="rgba(0,0,139,0.64)"/>
<circle cx="279.7" cy="216.1" r="1.42" fill="rgba(0,0,139,0.64)"/>
<circle cx="281.4" cy="216.6" r="1.42" fill="rgba(0,0,139,0.64)"/>
<circle cx="281.8" cy="219.2" r="1.42" fill="rgba(0,0,139,0.64)"/>
<circle cx="282.3" cy="221.8" r="1.42" fill="rgba(0,0,139,0.64)"/>
<circle cx="284.5" cy="218.8" r="1.42" fill="rgba(0,0,139,0.64)"/>
<circle cx="288.6" cy="218.6" r="1.42" fill="rgba(0,0,139,0.64)"/>
<path d="M185.60 219.50H196.00M190.80 214.30V224.70M187.12 215.82L194.48 223.18M187.12 223.18L194.48 215.82" stroke="#ffff00" stroke-width="1.05" fill="none"/>
<path d="M182.70 215.45L186.75 219.50L182.70 223.55L178.65 219.50Z" stroke="#ff0000" stroke-width="1.0" fill="none"/>
<line x1="311.00" y1="260.90" x2="319.50" y2="260.90" stroke="#2d2d2d" stroke-width="1.4"/>
<line x1="330.00" y1="260.90" x2="333.00" y2="260.90" stroke="#2d2d2d" stroke-width="1.4"/>
<rect x="319.50" y="245.50" width="10.50" height="30.80" fill="#F0F8FF" stroke="#333333" stroke-width="1.5"/>
<line x1="323.20" y1="245.50" x2="323.20" y2="276.30" stroke="#333333" stroke-width="2.9"/>
<circle cx="311.0" cy="260.7" r="1.42" fill="rgba(0,0,139,0.85)"/>
<circle cx="314.0" cy="257.0" r="1.42" fill="rgba(0,0,139,0.85)"/>
<circle cx="314.2" cy="263.7" r="1.42" fill="rgba(0,0,139,0.85)"/>
<circle cx="316.0" cy="257.5" r="1.42" fill="rgba(0,0,139,0.85)"/>
<circle cx="316.7" cy="264.7" r="1.42" fill="rgba(0,0,139,0.85)"/>
<circle cx="317.9" cy="256.5" r="1.42" fill="rgba(0,0,139,0.85)"/>
<circle cx="317.2" cy="262.4" r="1.42" fill="rgba(0,0,139,0.85)"/>
<circle cx="319.9" cy="256.2" r="1.42" fill="rgba(0,0,139,0.85)"/>
<circle cx="315.5" cy="260.5" r="1.42" fill="rgba(0,0,139,0.85)"/>
<circle cx="318.5" cy="259.5" r="1.42" fill="rgba(0,0,139,0.85)"/>
<circle cx="320.5" cy="263.5" r="1.42" fill="rgba(0,0,139,0.85)"/>
<circle cx="321.5" cy="258.0" r="1.42" fill="rgba(0,0,139,0.85)"/>
<circle cx="326.9" cy="257.5" r="1.42" fill="rgba(0,0,139,0.85)"/>
<circle cx="328.4" cy="258.5" r="1.42" fill="rgba(0,0,139,0.85)"/>
<circle cx="329.4" cy="261.0" r="1.42" fill="rgba(0,0,139,0.85)"/>
<circle cx="330.4" cy="262.9" r="1.42" fill="rgba(0,0,139,0.85)"/>
<circle cx="331.4" cy="257.0" r="1.42" fill="rgba(0,0,139,0.85)"/>
<circle cx="331.9" cy="260.0" r="1.42" fill="rgba(0,0,139,0.85)"/>
<circle cx="332.1" cy="262.4" r="1.42" fill="rgba(0,0,139,0.85)"/>
<circle cx="328.9" cy="263.9" r="1.42" fill="rgba(0,0,139,0.85)"/>
<circle cx="326.9" cy="264.4" r="1.42" fill="rgba(0,0,139,0.85)"/>
<circle cx="330.9" cy="263.9" r="1.42" fill="rgba(0,0,139,0.85)"/>
<circle cx="327.5" cy="261.0" r="1.42" fill="rgba(0,0,139,0.85)"/>
<circle cx="325.5" cy="259.5" r="1.42" fill="rgba(0,0,139,0.85)"/>
<circle cx="325.8" cy="263.0" r="1.42" fill="rgba(0,0,139,0.85)"/>
<circle cx="313.9" cy="257.7" r="1.42" fill="rgba(0,0,139,0.85)"/>
<circle cx="316.9" cy="257.1" r="1.42" fill="rgba(0,0,139,0.85)"/>
<circle cx="315.8" cy="259.4" r="1.42" fill="rgba(0,0,139,0.85)"/>
<circle cx="311.5" cy="260.6" r="1.42" fill="rgba(0,0,139,0.85)"/>
<circle cx="311.3" cy="260.0" r="1.42" fill="rgba(0,0,139,0.85)"/>
<circle cx="311.6" cy="257.2" r="1.42" fill="rgba(0,0,139,0.85)"/>
<circle cx="314.8" cy="263.1" r="1.42" fill="rgba(0,0,139,0.85)"/>
<circle cx="312.1" cy="258.3" r="1.42" fill="rgba(0,0,139,0.85)"/>
<circle cx="316.6" cy="264.1" r="1.42" fill="rgba(0,0,139,0.85)"/>
<circle cx="316.2" cy="259.7" r="1.42" fill="rgba(0,0,139,0.85)"/>
<circle cx="319.8" cy="256.9" r="1.42" fill="rgba(0,0,139,0.85)"/>
<circle cx="318.7" cy="258.8" r="1.42" fill="rgba(0,0,139,0.85)"/>
<circle cx="312.3" cy="257.4" r="1.42" fill="rgba(0,0,139,0.85)"/>
<circle cx="313.8" cy="263.0" r="1.42" fill="rgba(0,0,139,0.85)"/>
<circle cx="326.8" cy="261.2" r="1.42" fill="rgba(0,0,139,0.85)"/>
<circle cx="330.0" cy="259.5" r="1.42" fill="rgba(0,0,139,0.85)"/>
<circle cx="329.3" cy="257.0" r="1.42" fill="rgba(0,0,139,0.85)"/>
<circle cx="325.9" cy="258.1" r="1.42" fill="rgba(0,0,139,0.85)"/>
<circle cx="330.3" cy="259.9" r="1.42" fill="rgba(0,0,139,0.85)"/>
<circle cx="327.7" cy="261.2" r="1.42" fill="rgba(0,0,139,0.85)"/>
<circle cx="328.7" cy="258.9" r="1.42" fill="rgba(0,0,139,0.85)"/>
<circle cx="331.1" cy="262.1" r="1.42" fill="rgba(0,0,139,0.85)"/>
<circle cx="327.2" cy="261.1" r="1.42" fill="rgba(0,0,139,0.85)"/>
<circle cx="329.2" cy="263.5" r="1.42" fill="rgba(0,0,139,0.85)"/>
<circle cx="330.6" cy="258.8" r="1.42" fill="rgba(0,0,139,0.85)"/>
<circle cx="332.4" cy="257.4" r="1.42" fill="rgba(0,0,139,0.85)"/>
<circle cx="328.4" cy="262.6" r="1.42" fill="rgba(0,0,139,0.85)"/>
<circle cx="326.6" cy="260.4" r="1.42" fill="rgba(0,0,139,0.85)"/>
<path d="M318.20 260.90H328.60M323.40 255.70V266.10M319.72 257.22L327.08 264.58M319.72 264.58L327.08 257.22" stroke="#ffff00" stroke-width="1.05" fill="none"/>
<path d="M323.20 256.85L327.25 260.90L323.20 264.95L319.15 260.90Z" stroke="#ff0000" stroke-width="1.0" fill="none"/>
<line x1="301.50" y1="302.20" x2="312.00" y2="302.20" stroke="#2d2d2d" stroke-width="1.4"/>
<line x1="326.80" y1="302.20" x2="331.50" y2="302.20" stroke="#2d2d2d" stroke-width="1.4"/>
<rect x="312.00" y="286.80" width="14.80" height="30.80" fill="#F0F8FF" stroke="#333333" stroke-width="1.5"/>
<line x1="317.90" y1="286.80" x2="317.90" y2="317.60" stroke="#333333" stroke-width="2.9"/>
<circle cx="301.5" cy="302.5" r="1.42" fill="rgba(0,0,139,0.85)"/>
<circle cx="302.5" cy="300.0" r="1.42" fill="rgba(0,0,139,0.85)"/>
<circle cx="303.0" cy="305.0" r="1.42" fill="rgba(0,0,139,0.85)"/>
<circle cx="305.0" cy="302.0" r="1.42" fill="rgba(0,0,139,0.85)"/>
<circle cx="306.0" cy="299.0" r="1.42" fill="rgba(0,0,139,0.85)"/>
<circle cx="307.0" cy="304.0" r="1.42" fill="rgba(0,0,139,0.85)"/>
<circle cx="308.0" cy="297.8" r="1.42" fill="rgba(0,0,139,0.85)"/>
<circle cx="308.5" cy="301.0" r="1.42" fill="rgba(0,0,139,0.85)"/>
<circle cx="310.0" cy="299.0" r="1.42" fill="rgba(0,0,139,0.85)"/>
<circle cx="310.5" cy="303.5" r="1.42" fill="rgba(0,0,139,0.85)"/>
<circle cx="311.5" cy="301.0" r="1.42" fill="rgba(0,0,139,0.85)"/>
<circle cx="312.0" cy="306.0" r="1.42" fill="rgba(0,0,139,0.85)"/>
<circle cx="313.5" cy="298.5" r="1.42" fill="rgba(0,0,139,0.85)"/>
<circle cx="314.0" cy="303.0" r="1.42" fill="rgba(0,0,139,0.85)"/>
<circle cx="315.0" cy="305.5" r="1.42" fill="rgba(0,0,139,0.85)"/>
<circle cx="304.5" cy="306.0" r="1.42" fill="rgba(0,0,139,0.85)"/>
<circle cx="309.0" cy="306.5" r="1.42" fill="rgba(0,0,139,0.85)"/>
<circle cx="323.5" cy="299.0" r="1.42" fill="rgba(0,0,139,0.85)"/>
<circle cx="324.5" cy="304.0" r="1.42" fill="rgba(0,0,139,0.85)"/>
<circle cx="325.5" cy="301.0" r="1.42" fill="rgba(0,0,139,0.85)"/>
<circle cx="326.5" cy="298.0" r="1.42" fill="rgba(0,0,139,0.85)"/>
<circle cx="327.0" cy="305.0" r="1.42" fill="rgba(0,0,139,0.85)"/>
<circle cx="328.0" cy="302.0" r="1.42" fill="rgba(0,0,139,0.85)"/>
<circle cx="329.0" cy="299.5" r="1.42" fill="rgba(0,0,139,0.85)"/>
<circle cx="329.5" cy="304.5" r="1.42" fill="rgba(0,0,139,0.85)"/>
<circle cx="330.5" cy="301.0" r="1.42" fill="rgba(0,0,139,0.85)"/>
<circle cx="331.0" cy="303.0" r="1.42" fill="rgba(0,0,139,0.85)"/>
<circle cx="328.5" cy="297.5" r="1.42" fill="rgba(0,0,139,0.85)"/>
<circle cx="326.0" cy="306.0" r="1.42" fill="rgba(0,0,139,0.85)"/>
<circle cx="322.5" cy="305.5" r="1.42" fill="rgba(0,0,139,0.85)"/>
<circle cx="330.5" cy="306.0" r="1.42" fill="rgba(0,0,139,0.85)"/>
<circle cx="302.4" cy="303.5" r="1.42" fill="rgba(0,0,139,0.85)"/>
<circle cx="310.4" cy="302.8" r="1.42" fill="rgba(0,0,139,0.85)"/>
<circle cx="311.6" cy="300.9" r="1.42" fill="rgba(0,0,139,0.85)"/>
<circle cx="309.6" cy="303.0" r="1.42" fill="rgba(0,0,139,0.85)"/>
<circle cx="308.4" cy="301.9" r="1.42" fill="rgba(0,0,139,0.85)"/>
<circle cx="311.2" cy="305.6" r="1.42" fill="rgba(0,0,139,0.85)"/>
<circle cx="307.2" cy="303.5" r="1.42" fill="rgba(0,0,139,0.85)"/>
<circle cx="302.7" cy="303.8" r="1.42" fill="rgba(0,0,139,0.85)"/>
<circle cx="309.1" cy="305.9" r="1.42" fill="rgba(0,0,139,0.85)"/>
<circle cx="311.0" cy="300.6" r="1.42" fill="rgba(0,0,139,0.85)"/>
<circle cx="306.2" cy="303.5" r="1.42" fill="rgba(0,0,139,0.85)"/>
<circle cx="302.2" cy="302.0" r="1.42" fill="rgba(0,0,139,0.85)"/>
<circle cx="303.8" cy="299.4" r="1.42" fill="rgba(0,0,139,0.85)"/>
<circle cx="302.6" cy="304.3" r="1.42" fill="rgba(0,0,139,0.85)"/>
<circle cx="303.4" cy="300.4" r="1.42" fill="rgba(0,0,139,0.85)"/>
<circle cx="306.3" cy="305.0" r="1.42" fill="rgba(0,0,139,0.85)"/>
<circle cx="324.1" cy="301.6" r="1.42" fill="rgba(0,0,139,0.85)"/>
<circle cx="327.6" cy="305.1" r="1.42" fill="rgba(0,0,139,0.85)"/>
<circle cx="329.6" cy="304.9" r="1.42" fill="rgba(0,0,139,0.85)"/>
<circle cx="325.6" cy="301.3" r="1.42" fill="rgba(0,0,139,0.85)"/>
<circle cx="326.2" cy="305.1" r="1.42" fill="rgba(0,0,139,0.85)"/>
<circle cx="330.7" cy="299.2" r="1.42" fill="rgba(0,0,139,0.85)"/>
<circle cx="324.8" cy="299.9" r="1.42" fill="rgba(0,0,139,0.85)"/>
<circle cx="325.3" cy="301.9" r="1.42" fill="rgba(0,0,139,0.85)"/>
<circle cx="327.9" cy="300.1" r="1.42" fill="rgba(0,0,139,0.85)"/>
<circle cx="323.5" cy="301.4" r="1.42" fill="rgba(0,0,139,0.85)"/>
<circle cx="326.3" cy="302.5" r="1.42" fill="rgba(0,0,139,0.85)"/>
<circle cx="330.6" cy="303.5" r="1.42" fill="rgba(0,0,139,0.85)"/>
<circle cx="327.4" cy="302.9" r="1.42" fill="rgba(0,0,139,0.85)"/>
<circle cx="328.6" cy="298.4" r="1.42" fill="rgba(0,0,139,0.85)"/>
<circle cx="330.2" cy="304.2" r="1.42" fill="rgba(0,0,139,0.85)"/>
<circle cx="330.1" cy="304.4" r="1.42" fill="rgba(0,0,139,0.85)"/>
<path d="M313.20 302.20H323.60M318.40 297.00V307.40M314.72 298.52L322.08 305.88M314.72 305.88L322.08 298.52" stroke="#ffff00" stroke-width="1.05" fill="none"/>
<path d="M318.20 298.15L322.25 302.20L318.20 306.25L314.15 302.20Z" stroke="#ff0000" stroke-width="1.0" fill="none"/>
<path d="M61.60 194.70V327.00H345.00" stroke="#000" stroke-width="1.5" fill="none" stroke-linejoin="round"/>
<rect x="402" y="175" width="282" height="19" fill="#fff" stroke="#000" stroke-width="2"/>
<text x="543.0" y="187.7" font-size="9.7" fill="#1a1a1a" text-anchor="middle">D) Vegetable and fruit production (%−change)</text>
<line x1="397.90" y1="219.50" x2="401.60" y2="219.50" stroke="#333" stroke-width="1.3"/>
<text x="395.00" y="221.95" font-size="6.8" fill="#4d4d4d" text-anchor="end">EU</text>
<line x1="397.90" y1="260.90" x2="401.60" y2="260.90" stroke="#333" stroke-width="1.3"/>
<text x="395.00" y="263.35" font-size="6.8" fill="#4d4d4d" text-anchor="end">Extra−Europe</text>
<line x1="397.90" y1="302.20" x2="401.60" y2="302.20" stroke="#333" stroke-width="1.3"/>
<text x="395.00" y="304.65" font-size="6.8" fill="#4d4d4d" text-anchor="end">World</text>
<line x1="410.70" y1="327.00" x2="410.70" y2="330.70" stroke="#333" stroke-width="1.3"/>
<text x="410.70" y="339.10" font-size="6.8" fill="#4d4d4d" text-anchor="middle">−30</text>
<line x1="495.10" y1="327.00" x2="495.10" y2="330.70" stroke="#333" stroke-width="1.3"/>
<text x="495.10" y="339.10" font-size="6.8" fill="#4d4d4d" text-anchor="middle">−20</text>
<line x1="579.40" y1="327.00" x2="579.40" y2="330.70" stroke="#333" stroke-width="1.3"/>
<text x="579.40" y="339.10" font-size="6.8" fill="#4d4d4d" text-anchor="middle">−10</text>
<line x1="663.80" y1="327.00" x2="663.80" y2="330.70" stroke="#333" stroke-width="1.3"/>
<text x="663.80" y="339.10" font-size="6.8" fill="#4d4d4d" text-anchor="middle">0</text>
<line x1="414.20" y1="219.50" x2="506.40" y2="219.50" stroke="#2d2d2d" stroke-width="1.4"/>
<line x1="602.70" y1="219.50" x2="635.70" y2="219.50" stroke="#2d2d2d" stroke-width="1.4"/>
<rect x="506.40" y="204.10" width="96.30" height="30.80" fill="#F0F8FF" stroke="#333333" stroke-width="1.5"/>
<line x1="556.60" y1="204.10" x2="556.60" y2="234.90" stroke="#333333" stroke-width="2.9"/>
<circle cx="413.9" cy="217.2" r="1.42" fill="rgba(0,0,139,0.64)"/>
<circle cx="417.4" cy="218.3" r="1.42" fill="rgba(0,0,139,0.64)"/>
<circle cx="418.1" cy="220.7" r="1.42" fill="rgba(0,0,139,0.64)"/>
<circle cx="431.0" cy="216.1" r="1.42" fill="rgba(0,0,139,0.64)"/>
<circle cx="434.3" cy="218.6" r="1.42" fill="rgba(0,0,139,0.64)"/>
<circle cx="439.3" cy="218.3" r="1.42" fill="rgba(0,0,139,0.64)"/>
<circle cx="456.4" cy="220.3" r="1.42" fill="rgba(0,0,139,0.64)"/>
<circle cx="464.5" cy="221.6" r="1.42" fill="rgba(0,0,139,0.64)"/>
<circle cx="469.4" cy="219.5" r="1.42" fill="rgba(0,0,139,0.64)"/>
<circle cx="472.4" cy="216.3" r="1.42" fill="rgba(0,0,139,0.64)"/>
<circle cx="473.3" cy="223.0" r="1.42" fill="rgba(0,0,139,0.64)"/>
<circle cx="478.0" cy="216.3" r="1.42" fill="rgba(0,0,139,0.64)"/>
<circle cx="482.5" cy="218.8" r="1.42" fill="rgba(0,0,139,0.64)"/>
<circle cx="485.0" cy="220.7" r="1.42" fill="rgba(0,0,139,0.64)"/>
<circle cx="487.8" cy="219.6" r="1.42" fill="rgba(0,0,139,0.64)"/>
<circle cx="494.3" cy="220.9" r="1.42" fill="rgba(0,0,139,0.64)"/>
<circle cx="496.5" cy="223.6" r="1.42" fill="rgba(0,0,139,0.64)"/>
<circle cx="497.2" cy="218.3" r="1.42" fill="rgba(0,0,139,0.64)"/>
<circle cx="500.7" cy="221.6" r="1.42" fill="rgba(0,0,139,0.64)"/>
<circle cx="506.2" cy="216.0" r="1.42" fill="rgba(0,0,139,0.64)"/>
<circle cx="506.9" cy="220.5" r="1.42" fill="rgba(0,0,139,0.64)"/>
<circle cx="508.3" cy="221.6" r="1.42" fill="rgba(0,0,139,0.64)"/>
<circle cx="511.2" cy="218.1" r="1.42" fill="rgba(0,0,139,0.64)"/>
<circle cx="516.0" cy="218.1" r="1.42" fill="rgba(0,0,139,0.64)"/>
<circle cx="522.6" cy="218.8" r="1.42" fill="rgba(0,0,139,0.64)"/>
<circle cx="528.1" cy="222.7" r="1.42" fill="rgba(0,0,139,0.64)"/>
<circle cx="531.4" cy="222.7" r="1.42" fill="rgba(0,0,139,0.64)"/>
<circle cx="533.6" cy="217.9" r="1.42" fill="rgba(0,0,139,0.64)"/>
<circle cx="534.0" cy="218.8" r="1.42" fill="rgba(0,0,139,0.64)"/>
<circle cx="537.1" cy="215.7" r="1.42" fill="rgba(0,0,139,0.64)"/>
<circle cx="539.3" cy="223.0" r="1.42" fill="rgba(0,0,139,0.64)"/>
<circle cx="541.9" cy="221.4" r="1.42" fill="rgba(0,0,139,0.64)"/>
<circle cx="544.5" cy="223.0" r="1.42" fill="rgba(0,0,139,0.64)"/>
<circle cx="550.2" cy="223.0" r="1.42" fill="rgba(0,0,139,0.64)"/>
<circle cx="549.8" cy="217.0" r="1.42" fill="rgba(0,0,139,0.64)"/>
<circle cx="556.3" cy="218.1" r="1.42" fill="rgba(0,0,139,0.64)"/>
<circle cx="560.1" cy="221.4" r="1.42" fill="rgba(0,0,139,0.64)"/>
<circle cx="562.7" cy="216.0" r="1.42" fill="rgba(0,0,139,0.64)"/>
<circle cx="563.3" cy="220.7" r="1.42" fill="rgba(0,0,139,0.64)"/>
<circle cx="568.3" cy="218.6" r="1.42" fill="rgba(0,0,139,0.64)"/>
<circle cx="578.8" cy="216.3" r="1.42" fill="rgba(0,0,139,0.64)"/>
<circle cx="581.6" cy="216.2" r="1.42" fill="rgba(0,0,139,0.64)"/>
<circle cx="581.6" cy="218.5" r="1.42" fill="rgba(0,0,139,0.64)"/>
<circle cx="586.4" cy="217.1" r="1.42" fill="rgba(0,0,139,0.64)"/>
<circle cx="586.9" cy="219.0" r="1.42" fill="rgba(0,0,139,0.64)"/>
<circle cx="586.2" cy="223.8" r="1.42" fill="rgba(0,0,139,0.64)"/>
<circle cx="591.6" cy="215.2" r="1.42" fill="rgba(0,0,139,0.64)"/>
<circle cx="590.7" cy="218.5" r="1.42" fill="rgba(0,0,139,0.64)"/>
<circle cx="592.1" cy="221.9" r="1.42" fill="rgba(0,0,139,0.64)"/>
<circle cx="593.5" cy="223.3" r="1.42" fill="rgba(0,0,139,0.64)"/>
<circle cx="595.4" cy="216.6" r="1.42" fill="rgba(0,0,139,0.64)"/>
<circle cx="596.8" cy="220.2" r="1.42" fill="rgba(0,0,139,0.64)"/>
<circle cx="598.2" cy="217.1" r="1.42" fill="rgba(0,0,139,0.64)"/>
<circle cx="603.5" cy="217.1" r="1.42" fill="rgba(0,0,139,0.64)"/>
<circle cx="605.4" cy="218.1" r="1.42" fill="rgba(0,0,139,0.64)"/>
<circle cx="607.3" cy="218.5" r="1.42" fill="rgba(0,0,139,0.64)"/>
<circle cx="610.6" cy="216.2" r="1.42" fill="rgba(0,0,139,0.64)"/>
<circle cx="611.5" cy="220.4" r="1.42" fill="rgba(0,0,139,0.64)"/>
<circle cx="608.7" cy="223.1" r="1.42" fill="rgba(0,0,139,0.64)"/>
<circle cx="615.3" cy="215.9" r="1.42" fill="rgba(0,0,139,0.64)"/>
<circle cx="616.7" cy="221.4" r="1.42" fill="rgba(0,0,139,0.64)"/>
<circle cx="619.6" cy="219.0" r="1.42" fill="rgba(0,0,139,0.64)"/>
<circle cx="627.7" cy="222.3" r="1.42" fill="rgba(0,0,139,0.64)"/>
<circle cx="629.6" cy="216.6" r="1.42" fill="rgba(0,0,139,0.64)"/>
<circle cx="630.5" cy="220.9" r="1.42" fill="rgba(0,0,139,0.64)"/>
<circle cx="633.8" cy="218.1" r="1.42" fill="rgba(0,0,139,0.64)"/>
<circle cx="634.8" cy="221.4" r="1.42" fill="rgba(0,0,139,0.64)"/>
<circle cx="628.6" cy="223.3" r="1.42" fill="rgba(0,0,139,0.64)"/>
<path d="M546.30 219.50H556.70M551.50 214.30V224.70M547.82 215.82L555.18 223.18M547.82 223.18L555.18 215.82" stroke="#ffff00" stroke-width="1.05" fill="none"/>
<path d="M542.20 215.45L546.25 219.50L542.20 223.55L538.15 219.50Z" stroke="#ff0000" stroke-width="1.0" fill="none"/>
<line x1="664.30" y1="260.90" x2="664.80" y2="260.90" stroke="#2d2d2d" stroke-width="1.4"/>
<line x1="667.50" y1="260.90" x2="668.20" y2="260.90" stroke="#2d2d2d" stroke-width="1.4"/>
<rect x="664.80" y="245.50" width="2.70" height="30.80" fill="#F0F8FF" stroke="#333333" stroke-width="1.5"/>
<line x1="666.20" y1="245.50" x2="666.20" y2="276.30" stroke="#333333" stroke-width="2.9"/>
<circle cx="664.5" cy="256.2" r="1.42" fill="rgba(0,0,139,0.85)"/>
<circle cx="668.2" cy="256.0" r="1.42" fill="rgba(0,0,139,0.85)"/>
<circle cx="671.4" cy="256.5" r="1.42" fill="rgba(0,0,139,0.85)"/>
<circle cx="672.2" cy="257.2" r="1.42" fill="rgba(0,0,139,0.85)"/>
<circle cx="671.4" cy="259.0" r="1.42" fill="rgba(0,0,139,0.85)"/>
<circle cx="671.9" cy="262.0" r="1.42" fill="rgba(0,0,139,0.85)"/>
<circle cx="672.2" cy="264.7" r="1.42" fill="rgba(0,0,139,0.85)"/>
<circle cx="664.5" cy="265.0" r="1.42" fill="rgba(0,0,139,0.85)"/>
<circle cx="669.9" cy="263.0" r="1.42" fill="rgba(0,0,139,0.85)"/>
<circle cx="663.5" cy="259.0" r="1.42" fill="rgba(0,0,139,0.85)"/>
<circle cx="663.8" cy="262.5" r="1.42" fill="rgba(0,0,139,0.85)"/>
<circle cx="667.1" cy="259.7" r="1.42" fill="rgba(0,0,139,0.85)"/>
<circle cx="664.8" cy="261.6" r="1.42" fill="rgba(0,0,139,0.85)"/>
<circle cx="664.5" cy="257.0" r="1.42" fill="rgba(0,0,139,0.85)"/>
<circle cx="665.7" cy="257.8" r="1.42" fill="rgba(0,0,139,0.85)"/>
<circle cx="666.7" cy="256.9" r="1.42" fill="rgba(0,0,139,0.85)"/>
<circle cx="664.0" cy="257.7" r="1.42" fill="rgba(0,0,139,0.85)"/>
<circle cx="664.8" cy="259.4" r="1.42" fill="rgba(0,0,139,0.85)"/>
<circle cx="664.2" cy="263.5" r="1.42" fill="rgba(0,0,139,0.85)"/>
<path d="M661.30 260.90H671.70M666.50 255.70V266.10M662.82 257.22L670.18 264.58M662.82 264.58L670.18 257.22" stroke="#ffff00" stroke-width="1.05" fill="none"/>
<path d="M666.50 256.85L670.55 260.90L666.50 264.95L662.45 260.90Z" stroke="#ff0000" stroke-width="1.0" fill="none"/>
<line x1="656.20" y1="302.20" x2="656.75" y2="302.20" stroke="#2d2d2d" stroke-width="1.4"/>
<line x1="660.95" y1="302.20" x2="661.60" y2="302.20" stroke="#2d2d2d" stroke-width="1.4"/>
<rect x="656.75" y="286.80" width="4.20" height="30.80" fill="#F0F8FF" stroke="#333333" stroke-width="1.5"/>
<line x1="658.90" y1="286.80" x2="658.90" y2="317.60" stroke="#333333" stroke-width="2.9"/>
<circle cx="653.5" cy="300.0" r="1.42" fill="rgba(0,0,139,0.85)"/>
<circle cx="654.0" cy="304.0" r="1.42" fill="rgba(0,0,139,0.85)"/>
<circle cx="654.5" cy="306.5" r="1.42" fill="rgba(0,0,139,0.85)"/>
<circle cx="655.5" cy="298.5" r="1.42" fill="rgba(0,0,139,0.85)"/>
<circle cx="656.0" cy="302.0" r="1.42" fill="rgba(0,0,139,0.85)"/>
<circle cx="657.0" cy="305.5" r="1.42" fill="rgba(0,0,139,0.85)"/>
<circle cx="660.5" cy="298.0" r="1.42" fill="rgba(0,0,139,0.85)"/>
<circle cx="661.5" cy="300.5" r="1.42" fill="rgba(0,0,139,0.85)"/>
<circle cx="662.5" cy="303.0" r="1.42" fill="rgba(0,0,139,0.85)"/>
<circle cx="662.0" cy="306.5" r="1.42" fill="rgba(0,0,139,0.85)"/>
<circle cx="663.0" cy="301.0" r="1.42" fill="rgba(0,0,139,0.85)"/>
<circle cx="659.0" cy="307.0" r="1.42" fill="rgba(0,0,139,0.85)"/>
<circle cx="659.2" cy="299.7" r="1.42" fill="rgba(0,0,139,0.85)"/>
<circle cx="656.1" cy="301.3" r="1.42" fill="rgba(0,0,139,0.85)"/>
<circle cx="657.1" cy="299.5" r="1.42" fill="rgba(0,0,139,0.85)"/>
<circle cx="661.2" cy="306.4" r="1.42" fill="rgba(0,0,139,0.85)"/>
<circle cx="658.0" cy="302.4" r="1.42" fill="rgba(0,0,139,0.85)"/>
<circle cx="654.7" cy="299.3" r="1.42" fill="rgba(0,0,139,0.85)"/>
<circle cx="656.9" cy="300.6" r="1.42" fill="rgba(0,0,139,0.85)"/>
<circle cx="661.0" cy="299.8" r="1.42" fill="rgba(0,0,139,0.85)"/>
<circle cx="654.2" cy="306.1" r="1.42" fill="rgba(0,0,139,0.85)"/>
<circle cx="658.5" cy="299.7" r="1.42" fill="rgba(0,0,139,0.85)"/>
<circle cx="658.6" cy="298.7" r="1.42" fill="rgba(0,0,139,0.85)"/>
<circle cx="658.5" cy="306.3" r="1.42" fill="rgba(0,0,139,0.85)"/>
<circle cx="661.3" cy="304.1" r="1.42" fill="rgba(0,0,139,0.85)"/>
<circle cx="656.2" cy="301.4" r="1.42" fill="rgba(0,0,139,0.85)"/>
<path d="M653.20 302.20H663.60M658.40 297.00V307.40M654.72 298.52L662.08 305.88M654.72 305.88L662.08 298.52" stroke="#ffff00" stroke-width="1.05" fill="none"/>
<path d="M658.30 298.15L662.35 302.20L658.30 306.25L654.25 302.20Z" stroke="#ff0000" stroke-width="1.0" fill="none"/>
<path d="M401.60 194.70V327.00H685.00" stroke="#000" stroke-width="1.5" fill="none" stroke-linejoin="round"/>
<text transform="translate(7.1,174) rotate(-90)" font-size="9.6" fill="#000" text-anchor="middle">Region</text>
<text x="373.2" y="350.6" font-size="9.6" fill="#000" text-anchor="middle">Change compared to reference scenario</text>
<line x1="157.90" y1="378.6" x2="157.90" y2="402" stroke="#333" stroke-width="1.5"/><rect x="146.80" y="382.7" width="22.20" height="16" fill="#F0F8FF" stroke="#333" stroke-width="1.5"/><line x1="146.80" y1="390.7" x2="169.00" y2="390.7" stroke="#333" stroke-width="1.5"/>
<line x1="285.85" y1="378.6" x2="285.85" y2="402" stroke="#333" stroke-width="1.5"/><rect x="274.50" y="382.7" width="22.70" height="16" fill="#fff" stroke="#333" stroke-width="1.5"/><line x1="274.50" y1="390.7" x2="297.20" y2="390.7" stroke="#333" stroke-width="1.5"/>
<path d="M285.85 385.50L291.05 390.70L285.85 395.90L280.65 390.70Z" stroke="#ff0000" stroke-width="1.2" fill="none"/>
<line x1="395.60" y1="378.6" x2="395.60" y2="402" stroke="#333" stroke-width="1.5"/><rect x="384.60" y="382.7" width="22.00" height="16" fill="#fff" stroke="#333" stroke-width="1.5"/><line x1="384.60" y1="390.7" x2="406.60" y2="390.7" stroke="#333" stroke-width="1.5"/>
<path d="M389.40 390.60H401.80M395.60 384.40V396.80M391.22 386.22L399.98 394.98M391.22 394.98L399.98 386.22" stroke="#ffff00" stroke-width="1.1" fill="none"/>
<line x1="539.95" y1="378.6" x2="539.95" y2="402" stroke="#333" stroke-width="1.5"/><rect x="528.60" y="382.7" width="22.70" height="16" fill="#fff" stroke="#333" stroke-width="1.5"/><line x1="528.60" y1="390.7" x2="551.30" y2="390.7" stroke="#333" stroke-width="1.5"/>
<circle cx="539.95" cy="390.7" r="3.9" fill="rgba(0,0,139,0.64)"/>
<text x="180.6" y="393.0" font-size="8.35" fill="#000">Inter−quartile range</text>
<text x="308.6" y="393.0" font-size="8.35" fill="#000">Main model setup</text>
<text x="418.2" y="393.0" font-size="8.35" fill="#000">Mean of sensitivity analysis</text>
<text x="562.2" y="393.0" font-size="8.35" fill="#000">Model runs</text>
</svg></body></html>
